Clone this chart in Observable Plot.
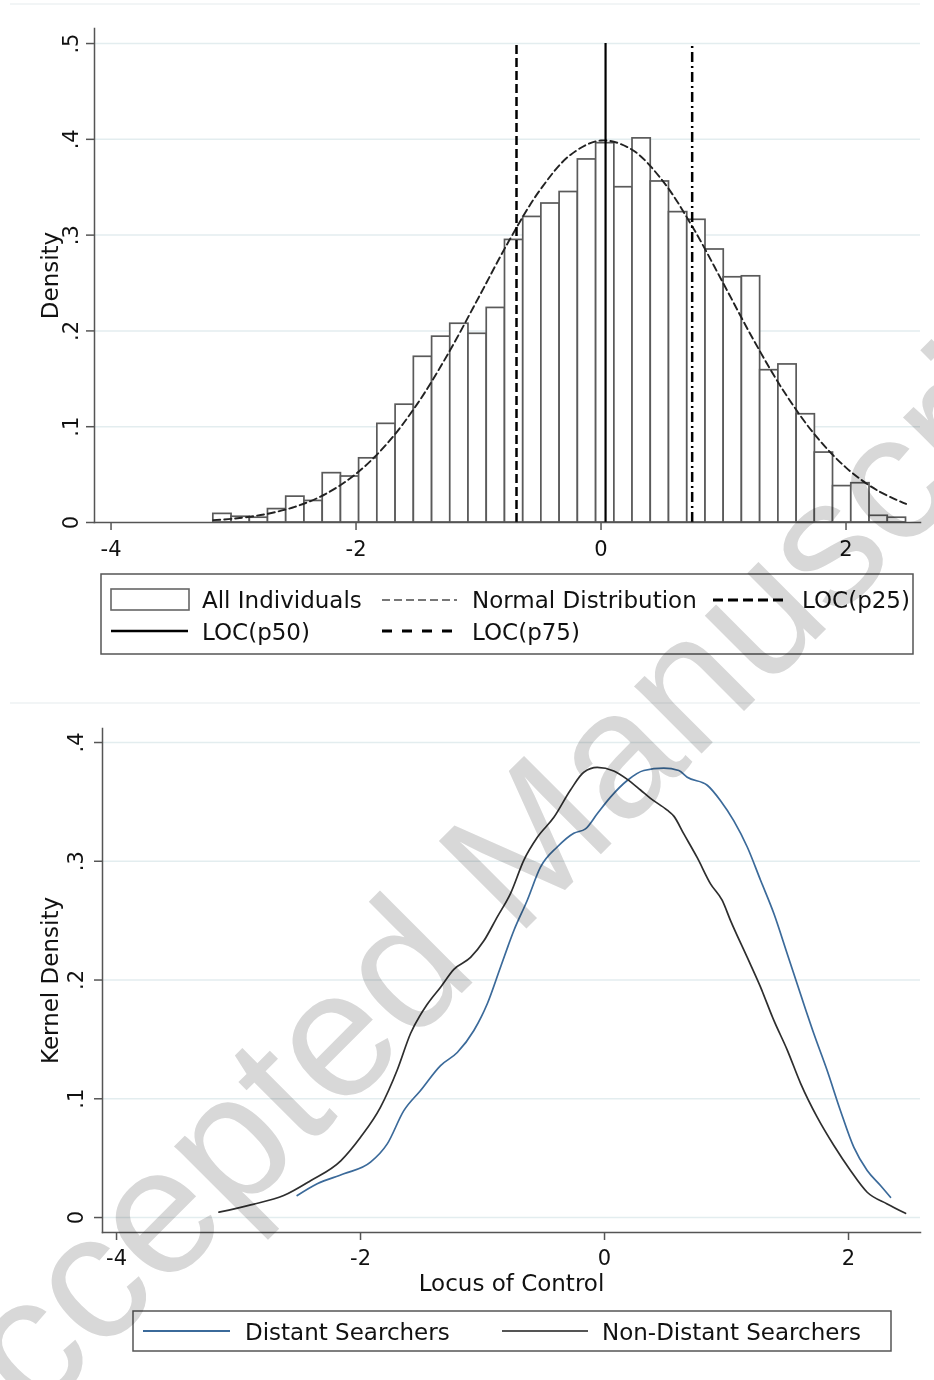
<!DOCTYPE html>
<html><head><meta charset="utf-8">
<script src="https://cdn.jsdelivr.net/npm/d3@7"></script>
<script src="https://cdn.jsdelivr.net/npm/@observablehq/plot@0.6"></script>
<style>
body{margin:0;background:#fff;}
#page{position:relative;width:934px;height:1380px;overflow:hidden;font-family:"DejaVu Sans",sans-serif;color:#111;}
#top,#bottom{position:absolute;left:0;}
#top{top:0;}
#bottom{top:700px;}
svg.overlay{position:absolute;left:0;top:0;}
#wm{pointer-events:none;mix-blend-mode:multiply;}
</style></head><body><div id="page">
<div id="top"></div>
<div id="bottom"></div>
</div>
<script>
// ---------- Data: histogram panel ----------
const binLow = [-3.165,-3.016,-2.867,-2.719,-2.570,-2.421,-2.272,-2.123,-1.975,-1.826,
  -1.677,-1.528,-1.379,-1.231,-1.082,-0.933,-0.784,-0.635,-0.487,-0.338,
  -0.189,-0.040,0.109,0.257,0.406,0.555,0.704,0.853,1.001,1.150,
  1.299,1.448,1.597,1.745,1.894,2.043,2.192,2.341];
const binWidth = 0.1488;
const histDensity = [0.009,0.006,0.005,0.014,0.027,0.0225,0.0515,0.048,0.067,0.103,
  0.123,0.173,0.194,0.2075,0.197,0.224,0.295,0.319,0.333,0.345,
  0.379,0.396,0.350,0.401,0.356,0.324,0.316,0.285,0.256,0.257,
  0.159,0.165,0.113,0.073,0.038,0.041,0.007,0.005];
const normalX = [-3.165,-3.0,-2.75,-2.5,-2.25,-2.0,-1.75,-1.5,-1.25,-1.0,-0.75,-0.5,-0.25,0.0,0.25,0.5,0.75,1.0,1.25,1.5,1.75,2.0,2.25,2.49];
const normalY = [0.0025,0.0040,0.0084,0.0163,0.0297,0.0508,0.0818,0.1238,0.1758,0.2347,0.2943,0.3467,0.3837,0.3988,0.3894,0.3572,0.3079,0.2492,0.1895,0.1354,0.0909,0.0573,0.0339,0.0194];
const locNames = ["LOC(p25)","LOC(p50)","LOC(p75)"];
const locValues = [-0.690, 0.037, 0.744];
const topYTicks = [0,0.1,0.2,0.3,0.4,0.5];
const xTicks = [-4,-2,0,2];

// ---------- Data: kernel density panel ----------
const distantX = [-2.519,-2.355,-2.137,-1.918,-1.781,-1.645,-1.508,-1.344,-1.207,-1.071,-0.961,-0.852,-0.743,-0.634,-0.525,-0.388,-0.252,-0.156,-0.060,0.049,0.186,0.322,0.486,0.609,0.678,0.842,0.951,1.060,1.170,1.279,1.388,1.498,1.607,1.716,1.825,1.934,2.044,2.153,2.262,2.344];
const distantY = [0.0185,0.0284,0.0368,0.0466,0.062,0.090,0.107,0.128,0.139,0.1575,0.180,0.211,0.2417,0.267,0.295,0.312,0.3236,0.3273,0.340,0.354,0.368,0.3764,0.3784,0.3764,0.3708,0.364,0.351,0.334,0.312,0.284,0.256,0.222,0.188,0.1547,0.1238,0.090,0.059,0.0396,0.027,0.0171];
const nonDistantX = [-3.16,-2.90,-2.63,-2.41,-2.16,-2.0,-1.836,-1.70,-1.59,-1.45,-1.344,-1.235,-1.098,-0.989,-0.880,-0.770,-0.661,-0.552,-0.415,-0.279,-0.170,-0.060,0.076,0.186,0.295,0.377,0.514,0.568,0.650,0.760,0.869,0.965,1.033,1.170,1.279,1.388,1.498,1.607,1.743,1.880,2.016,2.153,2.317,2.467];
const nonDistantY = [0.0045,0.0107,0.0185,0.031,0.048,0.0676,0.093,0.124,0.155,0.180,0.194,0.209,0.219,0.233,0.253,0.273,0.301,0.320,0.337,0.360,0.375,0.379,0.376,0.369,0.360,0.353,0.343,0.338,0.323,0.303,0.281,0.267,0.250,0.219,0.194,0.166,0.141,0.113,0.0845,0.0606,0.0396,0.0213,0.0115,0.0036];
const bottomYTicks = [0,0.1,0.2,0.3,0.4];

const fmt = d => d === 0 ? "0" : String(d).replace(/^0\./, ".");
const axisColor = "#555";
const gridColor = "#e3edef";

// ---------- Top: histogram ----------
const bins = binLow.map((x, i) => ({x1: x, x2: x + binWidth, d: histDensity[i]}));
const normal = normalX.map((x, i) => ({x, y: normalY[i]}));
const locs = locNames.map((n, i) => ({name: n, x: locValues[i]}));
const locStyle = {
  "LOC(p25)": {dash: "9,4", w: 2.5},
  "LOC(p50)": {dash: null, w: 2.2},
  "LOC(p75)": {dash: "10,4,2,4", w: 2.5}
};

const topPlot = Plot.plot({
  width: 934, height: 570,
  marginLeft: 94, marginRight: 14, marginTop: 28, marginBottom: 48,
  x: {domain: [-4.135, 2.608]},
  y: {domain: [0, 0.5157]},
  style: {fontFamily: "DejaVu Sans", fontSize: "21px", color: "#111", background: "transparent"},
  marks: [
    Plot.gridY(topYTicks.slice(1), {stroke: gridColor, strokeOpacity: 1, strokeWidth: 1.5}),
    Plot.rectY(bins, {x1: "x1", x2: "x2", y: "d", fill: "white", stroke: "#5a5a5a", strokeWidth: 1.7}),
    Plot.line(normal, {x: "x", y: "y", stroke: "#222", strokeWidth: 1.9, strokeDasharray: "7,4", curve: "catmull-rom"}),
    ...locs.map(l => Plot.ruleX([l], {x: "x", y1: () => 0, y2: () => 0.5, stroke: "#000",
      strokeWidth: locStyle[l.name].w, strokeDasharray: locStyle[l.name].dash})),
    Plot.frame({anchor: "left", stroke: axisColor, strokeWidth: 1.5}),
    Plot.frame({anchor: "bottom", stroke: axisColor, strokeWidth: 1.5}),
    Plot.axisX(xTicks, {tickSize: 8, tickPadding: 11, fontSize: 21, tickFormat: d => String(d), label: null, stroke: axisColor, strokeWidth: 1.5}),
    Plot.axisY(topYTicks, {tickSize: 8, tickFormat: () => "", label: null, stroke: axisColor, strokeWidth: 1.5}),
    Plot.text(topYTicks, {y: d => d, text: fmt, frameAnchor: "left", dx: -17, rotate: -90, lineAnchor: "bottom", textAnchor: "middle", fontSize: 21}),
    Plot.text(["Density"], {frameAnchor: "left", dx: -44, rotate: -90, textAnchor: "middle", lineAnchor: "middle", fontSize: 23})
  ]
});
document.getElementById("top").appendChild(topPlot);

// ---------- Bottom: kernel densities ----------
const kd = [
  ...distantX.map((x, i) => ({group: "Distant Searchers", x, y: distantY[i]})),
  ...nonDistantX.map((x, i) => ({group: "Non-Distant Searchers", x, y: nonDistantY[i]}))
];
const bottomPlot = Plot.plot({
  width: 934, height: 640,
  marginLeft: 102, marginRight: 14, marginTop: 28, marginBottom: 108,
  x: {domain: [-4.115, 2.59]},
  y: {domain: [-0.0126, 0.4118]},
  color: {domain: ["Distant Searchers", "Non-Distant Searchers"], range: ["#3b6a9a", "#2e2e2e"]},
  style: {fontFamily: "DejaVu Sans", fontSize: "21px", color: "#111", background: "transparent"},
  marks: [
    Plot.gridY(bottomYTicks, {stroke: gridColor, strokeOpacity: 1, strokeWidth: 1.5}),
    Plot.line(kd, {x: "x", y: "y", z: "group", stroke: "group", strokeWidth: 1.7, curve: "monotone-x"}),
    Plot.frame({anchor: "left", stroke: axisColor, strokeWidth: 1.5}),
    Plot.frame({anchor: "bottom", stroke: axisColor, strokeWidth: 1.5}),
    Plot.axisX(xTicks, {tickSize: 8, tickPadding: 10, fontSize: 21, tickFormat: d => String(d), label: null, stroke: axisColor, strokeWidth: 1.5}),
    Plot.axisY(bottomYTicks, {tickSize: 8, tickFormat: () => "", label: null, stroke: axisColor, strokeWidth: 1.5}),
    Plot.text(bottomYTicks, {y: d => d, text: fmt, frameAnchor: "left", dx: -20, rotate: -90, lineAnchor: "bottom", textAnchor: "middle", fontSize: 21}),
    Plot.text(["Kernel Density"], {frameAnchor: "left", dx: -52, rotate: -90, textAnchor: "middle", lineAnchor: "middle", fontSize: 23}),
    Plot.text(["Locus of Control"], {frameAnchor: "bottom", dy: 51, textAnchor: "middle", lineAnchor: "middle", fontSize: 23})
  ]
});
document.getElementById("bottom").appendChild(bottomPlot);

// ---------- Legends and decorations (overlay SVG) ----------
const NS = "http://www.w3.org/2000/svg";
function el(parent, tag, attrs, text) {
  const e = document.createElementNS(NS, tag);
  for (const k in attrs) e.setAttribute(k, attrs[k]);
  if (text != null) e.textContent = text;
  parent.appendChild(e);
  return e;
}
const page = document.getElementById("page");
const ov = document.createElementNS(NS, "svg");
ov.setAttribute("class", "overlay");
ov.setAttribute("width", 934); ov.setAttribute("height", 1380);
page.appendChild(ov);
const T = {"font-family": "DejaVu Sans", "font-size": 23, fill: "#111"};

// faint graph-region borders
el(ov, "line", {x1: 10, x2: 920, y1: 4, y2: 4, stroke: "#eef2f3", "stroke-width": 1.5});
el(ov, "line", {x1: 10, x2: 920, y1: 703, y2: 703, stroke: "#eef2f3", "stroke-width": 1.5});

// top legend
el(ov, "rect", {x: 101, y: 574, width: 812, height: 80, fill: "white", stroke: "#555", "stroke-width": 1.5});
el(ov, "rect", {x: 111, y: 589, width: 78, height: 21, fill: "white", stroke: "#666", "stroke-width": 1.6});
el(ov, "text", {...T, x: 202, y: 608}, "All Individuals");
el(ov, "line", {x1: 382, x2: 457, y1: 600, y2: 600, stroke: "#777", "stroke-width": 2, "stroke-dasharray": "8,4"});
el(ov, "text", {...T, x: 472, y: 608}, "Normal Distribution");
el(ov, "line", {x1: 713, x2: 788, y1: 600, y2: 600, stroke: "#000", "stroke-width": 3, "stroke-dasharray": "10,5"});
el(ov, "text", {...T, x: 802, y: 608}, locNames[0]);
el(ov, "line", {x1: 111, x2: 188, y1: 631, y2: 631, stroke: "#000", "stroke-width": 2.5});
el(ov, "text", {...T, x: 202, y: 640}, locNames[1]);
el(ov, "line", {x1: 382, x2: 452, y1: 631, y2: 631, stroke: "#000", "stroke-width": 3, "stroke-dasharray": "10,10"});
el(ov, "text", {...T, x: 472, y: 640}, locNames[2]);

// bottom legend
el(ov, "rect", {x: 133, y: 1311, width: 758, height: 40, fill: "white", stroke: "#555", "stroke-width": 1.5});
el(ov, "line", {x1: 143, x2: 230, y1: 1331, y2: 1331, stroke: "#3b6a9a", "stroke-width": 2});
el(ov, "text", {...T, x: 245, y: 1340}, "Distant Searchers");
el(ov, "line", {x1: 502, x2: 588, y1: 1331, y2: 1331, stroke: "#555", "stroke-width": 2});
el(ov, "text", {...T, x: 602, y: 1340}, "Non-Distant Searchers");

// watermark
const wm = document.createElementNS(NS, "svg");
wm.setAttribute("class", "overlay"); wm.setAttribute("id", "wm");
wm.setAttribute("width", 934); wm.setAttribute("height", 1380);
page.appendChild(wm);
el(wm, "text", {x: 0, y: 0, transform: "translate(-50,1505) rotate(-45)", "font-family": "Liberation Sans",
  "font-size": 180, fill: "#d8d8d8"}, "Accepted Manuscript");
</script>
</body></html>
